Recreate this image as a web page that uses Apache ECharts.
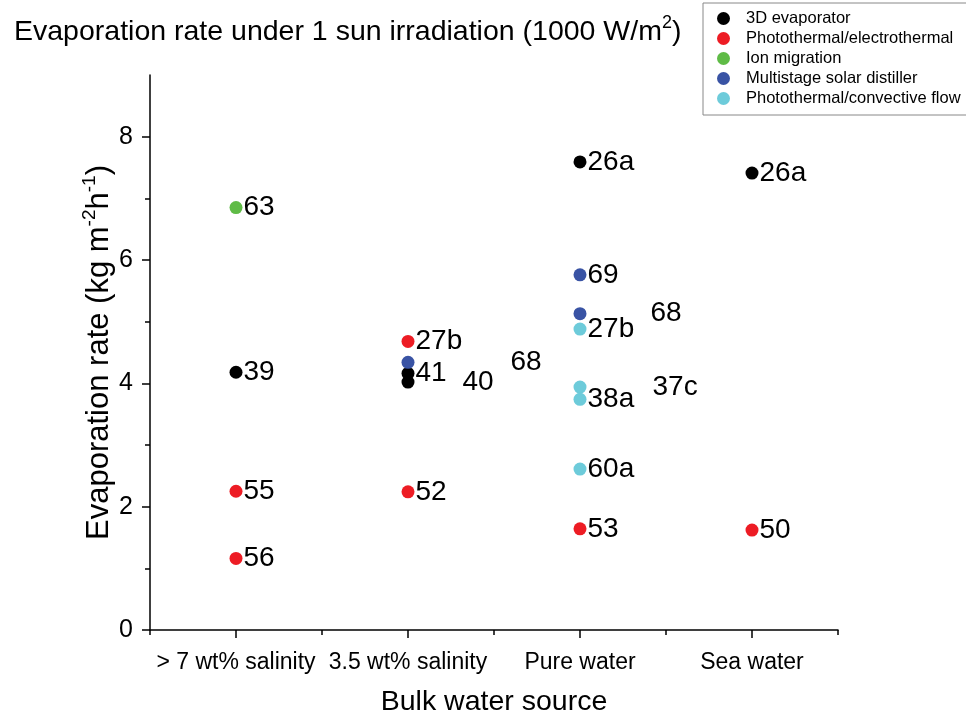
<!DOCTYPE html>
<html>
<head>
<meta charset="utf-8">
<script src="https://cdn.jsdelivr.net/npm/echarts@6/dist/echarts.min.js"></script>
<style>
html,body{margin:0;padding:0;background:#fff;}
#chart{width:966px;height:715px;}
</style>
</head>
<body>
<div id="chart"></div>
<script>
// ---- data ----
const categories = ['> 7 wt% salinity', '3.5 wt% salinity', 'Pure water', 'Sea water'];
const yMajorTicks = [0, 2, 4, 6, 8];
const yMinorTicks = [1, 3, 5, 7];

const evaporator3D = [
  ['> 7 wt% salinity', 4.18, '39'],
  ['3.5 wt% salinity', 4.16, '41'],
  ['3.5 wt% salinity', 4.02, '40'],
  ['Pure water', 7.59, '26a'],
  ['Sea water', 7.41, '26a']
];
const photoElectro = [
  ['> 7 wt% salinity', 2.25, '55'],
  ['> 7 wt% salinity', 1.16, '56'],
  ['3.5 wt% salinity', 4.68, '27b'],
  ['3.5 wt% salinity', 2.24, '52'],
  ['Pure water', 1.64, '53'],
  ['Sea water', 1.62, '50']
];
const ionMigration = [
  ['> 7 wt% salinity', 6.85, '63']
];
const multistage = [
  ['3.5 wt% salinity', 4.34, '68'],
  ['Pure water', 5.76, '69'],
  ['Pure water', 5.13, '68']
];
const convective = [
  ['Pure water', 4.88, '27b'],
  ['Pure water', 3.94, '37c'],
  ['Pure water', 3.74, '38a'],
  ['Pure water', 2.61, '60a']
];

// ---- styling ----
const seriesDefs = [
  {name: '3D evaporator', data: evaporator3D, color: '#000000'},
  {name: 'Photothermal/electrothermal', data: photoElectro, color: '#ed1c24'},
  {name: 'Ion migration', data: ionMigration, color: '#5fbb46'},
  {name: 'Multistage solar distiller', data: multistage, color: '#3953a4'},
  {name: 'Photothermal/convective flow', data: convective, color: '#6dcbda'}
];
// displaced labels (styling only)
const labelShift = {
  '3D evaporator': {2: [47, 0]},
  'Multistage solar distiller': {0: [95, 0], 2: [63, 0]},
  'Photothermal/convective flow': {1: [65, 0]}
};

const FONT = 'Liberation Sans, Arial, sans-serif';

const chart = echarts.init(document.getElementById('chart'), null, {renderer: 'canvas'});

const series = seriesDefs.map(def => ({
  name: def.name,
  type: 'scatter',
  xAxisIndex: 0,
  yAxisIndex: 0,
  symbol: 'circle',
  symbolSize: 13,
  itemStyle: {color: def.color, opacity: 1},
  label: {
    show: true,
    position: 'right',
    distance: 1,
    formatter: '{b}',
    color: '#000',
    fontSize: 28,
    fontFamily: FONT
  },
  emphasis: {disabled: true},
  data: def.data.map((d, i) => {
    const item = {value: [d[0], d[1]], name: d[2]};
    const s = labelShift[def.name] && labelShift[def.name][i];
    if (s) item.label = {offset: s};
    return item;
  })
}));

const option = {
  backgroundColor: '#fff',
  animation: false,
  title: {
    text: 'Evaporation rate under 1 sun irradiation (1000 W/m{sup|2})',
    left: 9,
    top: 9,
    textStyle: {
      fontSize: 28.5,
      fontWeight: 'normal',
      color: '#000',
      fontFamily: FONT,
      lineHeight: 36,
      rich: {
        sup: {fontSize: 18, verticalAlign: 'top', lineHeight: 20, color: '#000', fontFamily: FONT}
      }
    }
  },
  legend: {
    orient: 'vertical',
    left: 703,
    top: 3,
    padding: [7, 6, 8, 14],
    itemGap: 3,
    itemWidth: 13,
    itemHeight: 13,
    icon: 'circle',
    borderColor: '#888',
    borderWidth: 1,
    backgroundColor: '#fff',
    selectedMode: false,
    textStyle: {fontSize: 16.5, color: '#000', fontFamily: FONT, padding: [0, 0, 0, 11]},
    data: seriesDefs.map(d => d.name)
  },
  grid: {left: 150, right: 128, top: 75, bottom: 85, containLabel: false, outerBoundsMode: 'none'},
  xAxis: [
    {
      type: 'category',
      data: categories,
      boundaryGap: true,
      name: 'Bulk water source',
      nameLocation: 'middle',
      nameGap: 58,
      nameMoveOverlap: false,
      nameTextStyle: {fontSize: 28.5, color: '#000', fontFamily: FONT},
      axisLine: {show: true, lineStyle: {color: '#000', width: 1.5}},
      axisTick: {show: true, alignWithLabel: true, length: 8, lineStyle: {color: '#000', width: 1.5}},
      axisLabel: {show: true, interval: 0, fontSize: 23, color: '#000', fontFamily: FONT, margin: 21},
      splitLine: {show: false}
    },
    {
      type: 'category',
      data: categories,
      boundaryGap: true,
      position: 'bottom',
      axisLine: {show: false},
      axisTick: {show: true, interval: 0, alignWithLabel: false, length: 5, lineStyle: {color: '#000', width: 1.5}},
      axisLabel: {show: false},
      splitLine: {show: false}
    }
  ],
  yAxis: [
    {
      type: 'value',
      min: 0,
      max: 9,
      interval: 1,
      name: 'Evaporation rate (kg m{sup|-2}h{sup|-1})',
      nameLocation: 'middle',
      nameRotate: 90,
      nameGap: 32,
      nameMoveOverlap: false,
      nameTextStyle: {
        fontSize: 31, color: '#000', fontFamily: FONT, lineHeight: 38,
        rich: {sup: {fontSize: 19, verticalAlign: 'top', lineHeight: 20, color: '#000', fontFamily: FONT}}
      },
      axisLine: {show: true, lineStyle: {color: '#000', width: 1.5}},
      axisTick: {show: true, length: 8, customValues: yMajorTicks, lineStyle: {color: '#000', width: 1.5}},
      axisLabel: {show: true, fontSize: 25, color: '#000', fontFamily: FONT, margin: 17, customValues: yMajorTicks},
      splitLine: {show: false}
    },
    {
      type: 'value',
      min: 0,
      max: 9,
      interval: 1,
      position: 'left',
      axisLine: {show: false},
      axisTick: {show: true, length: 5, customValues: yMinorTicks, lineStyle: {color: '#000', width: 1.5}},
      axisLabel: {show: false},
      splitLine: {show: false}
    }
  ],
  series: series
};

chart.setOption(option);
</script>
</body>
</html>
